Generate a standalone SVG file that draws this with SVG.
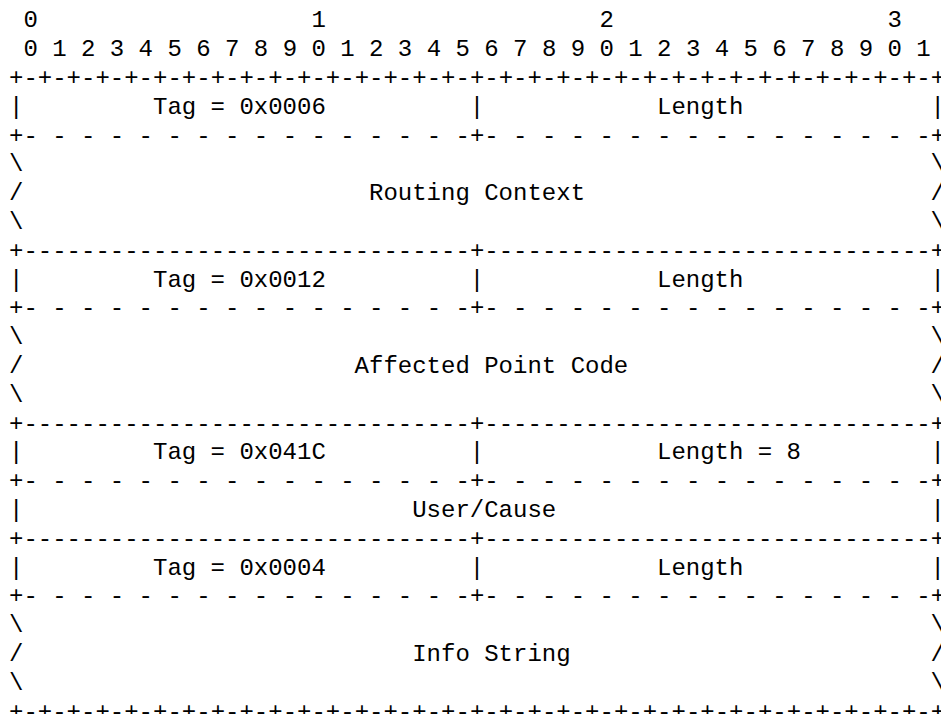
<svg xmlns="http://www.w3.org/2000/svg" width="941" height="714" viewBox="0 0 941 714">
<style>
.t{font-family:"Liberation Mono","Courier New",monospace;font-size:24px;fill:#000}
</style>
<rect width="941" height="714" fill="#fff"/>
<g id="header" class="t">
<text x="23.4" y="27.4">0</text><text x="311.4" y="27.4">1</text><text x="599.4" y="27.4">2</text><text x="887.4" y="27.4">3</text>
<text x="23.4" y="56.2">0 1 2 3 4 5 6 7 8 9 0 1 2 3 4 5 6 7 8 9 0 1 2 3 4 5 6 7 8 9 0 1</text>
</g>
<g id="separators" class="t">
<text x="9" y="85">+-+-+-+-+-+-+-+-+-+-+-+-+-+-+-+-+-+-+-+-+-+-+-+-+-+-+-+-+-+-+-+-+</text>
<text x="9" y="142.6">+- - - - - - - - - - - - - - - -+- - - - - - - - - - - - - - - -+</text>
<text x="9" y="257.8">+-------------------------------+-------------------------------+</text>
<text x="9" y="315.4">+- - - - - - - - - - - - - - - -+- - - - - - - - - - - - - - - -+</text>
<text x="9" y="430.6">+-------------------------------+-------------------------------+</text>
<text x="9" y="488.2">+- - - - - - - - - - - - - - - -+- - - - - - - - - - - - - - - -+</text>
<text x="9" y="545.8">+-------------------------------+-------------------------------+</text>
<text x="9" y="603.4">+- - - - - - - - - - - - - - - -+- - - - - - - - - - - - - - - -+</text>
<text x="9" y="718.6">+-+-+-+-+-+-+-+-+-+-+-+-+-+-+-+-+-+-+-+-+-+-+-+-+-+-+-+-+-+-+-+-+</text>
</g>
<g id="routing-context-tag" class="t">
<text x="9" y="113.8">|</text><text x="153" y="113.8">Tag = 0x0006</text><text x="469.8" y="113.8">|</text><text x="657" y="113.8">Length</text><text x="930.6" y="113.8">|</text>
</g>
<g id="routing-context" class="t">
<text x="9" y="171.4">\</text><text x="930.6" y="171.4">\</text>
<text x="9" y="200.2">/</text><text x="369" y="200.2">Routing Context</text><text x="930.6" y="200.2">/</text>
<text x="9" y="229">\</text><text x="930.6" y="229">\</text>
</g>
<g id="apc-tag" class="t">
<text x="9" y="286.6">|</text><text x="153" y="286.6">Tag = 0x0012</text><text x="469.8" y="286.6">|</text><text x="657" y="286.6">Length</text><text x="930.6" y="286.6">|</text>
</g>
<g id="affected-point-code" class="t">
<text x="9" y="344.2">\</text><text x="930.6" y="344.2">\</text>
<text x="9" y="373">/</text><text x="354.6" y="373">Affected Point Code</text><text x="930.6" y="373">/</text>
<text x="9" y="401.8">\</text><text x="930.6" y="401.8">\</text>
</g>
<g id="user-cause-tag" class="t">
<text x="9" y="459.4">|</text><text x="153" y="459.4">Tag = 0x041C</text><text x="469.8" y="459.4">|</text><text x="657" y="459.4">Length = 8</text><text x="930.6" y="459.4">|</text>
</g>
<g id="user-cause" class="t">
<text x="9" y="517">|</text><text x="412.2" y="517">User/Cause</text><text x="930.6" y="517">|</text>
</g>
<g id="info-string-tag" class="t">
<text x="9" y="574.6">|</text><text x="153" y="574.6">Tag = 0x0004</text><text x="469.8" y="574.6">|</text><text x="657" y="574.6">Length</text><text x="930.6" y="574.6">|</text>
</g>
<g id="info-string" class="t">
<text x="9" y="632.2">\</text><text x="930.6" y="632.2">\</text>
<text x="9" y="661">/</text><text x="412.2" y="661">Info String</text><text x="930.6" y="661">/</text>
<text x="9" y="689.8">\</text><text x="930.6" y="689.8">\</text>
</g>
</svg>
